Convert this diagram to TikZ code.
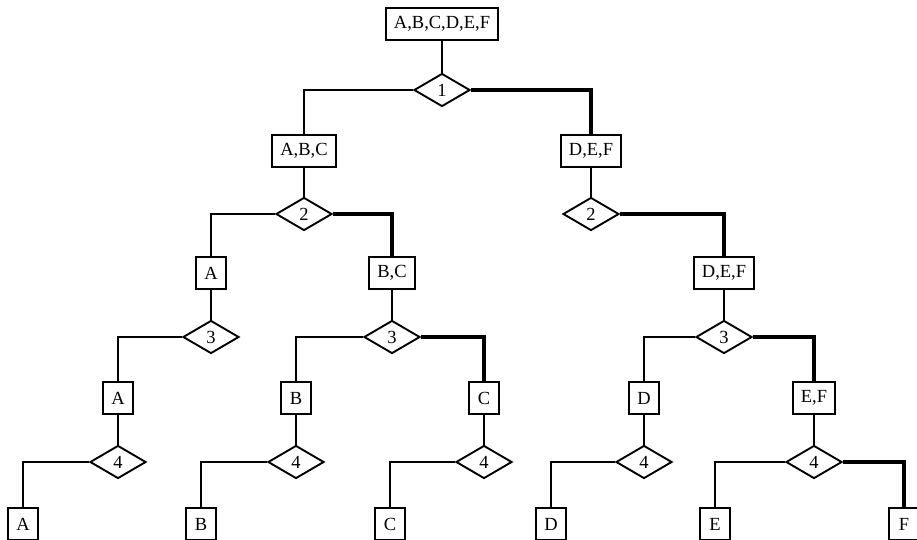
\documentclass[tikz,border=0pt]{standalone}
\usepackage{fontspec}
\setmainfont{Liberation Serif}
\usetikzlibrary{shapes.geometric}
\begin{document}
\begin{tikzpicture}[x=1pt,y=-1pt,
  setbox/.style={draw, line width=1.9pt, minimum height=32pt, minimum width=30pt,
    inner xsep=8pt, inner ysep=0pt, font=\fontsize{18.5}{18.5}\selectfont},
  testbox/.style={draw, shape=diamond, line width=1.9pt, minimum width=56pt,
    minimum height=33pt, inner sep=0pt, font=\fontsize{18.5}{18.5}\selectfont},
  edge/.style={line width=1.9pt},
  heavy/.style={line width=4pt}]
\useasboundingbox (0,0) rectangle (917,539);
\clip (0,0) rectangle (917,539);

% level 0
\node[setbox]  (root) at (442,24)  {A,B,C,D,E,F};
\node[testbox] (t1)   at (442,90)  {1};

% level 1
\node[setbox]  (abc)  at (304,151) {A,B,C};
\node[setbox]  (def)  at (591,151) {D,E,F};
\node[testbox] (t2a)  at (304,214) {2};
\node[testbox] (t2b)  at (591,214) {2};

% level 2
\node[setbox]  (a2)   at (211,273) {A};
\node[setbox]  (bc)   at (392,273) {B,C};
\node[setbox]  (def2) at (724,273) {D,E,F};
\node[testbox] (t3a)  at (211,337) {3};
\node[testbox] (t3b)  at (392,337) {3};
\node[testbox] (t3c)  at (724,337) {3};

% level 3
\node[setbox]  (a3)   at (118,398) {A};
\node[setbox]  (b3)   at (296,398) {B};
\node[setbox]  (c3)   at (484,398) {C};
\node[setbox]  (d3)   at (644,398) {D};
\node[setbox]  (ef3)  at (814,398) {E,F};
\node[testbox] (t4a)  at (118,462) {4};
\node[testbox] (t4b)  at (296,462) {4};
\node[testbox] (t4c)  at (484,462) {4};
\node[testbox] (t4d)  at (644,462) {4};
\node[testbox] (t4e)  at (814,462) {4};

% leaves
\node[setbox]  (a4)   at (23,524)  {A};
\node[setbox]  (b4)   at (201,524) {B};
\node[setbox]  (c4)   at (390,524) {C};
\node[setbox]  (d4)   at (551,524) {D};
\node[setbox]  (e4)   at (715,524) {E};
\node[setbox]  (f4)   at (904,524) {F};

% set to test
\foreach \s/\t in {root/t1, abc/t2a, def/t2b, a2/t3a, bc/t3b, def2/t3c,
                   a3/t4a, b3/t4b, c3/t4c, d3/t4d, ef3/t4e}
  \draw[edge] (\s.south) -- (\t.north);

% thin branches
\draw[edge] (t1.west)  -| (abc.north);
\draw[edge] (t2a.west) -| (a2.north);
\draw[edge] (t3a.west) -| (a3.north);
\draw[edge] (t3b.west) -| (b3.north);
\draw[edge] (t3c.west) -| (d3.north);
\draw[edge] (t4a.west) -| (a4.north);
\draw[edge] (t4b.west) -| (b4.north);
\draw[edge] (t4c.west) -| (c4.north);
\draw[edge] (t4d.west) -| (d4.north);
\draw[edge] (t4e.west) -| (e4.north);

% heavy branches
\draw[heavy] (t1.east)  -| (def.north);
\draw[heavy] (t2a.east) -| (bc.north);
\draw[heavy] (t2b.east) -| (def2.north);
\draw[heavy] (t3b.east) -| (c3.north);
\draw[heavy] (t3c.east) -| (ef3.north);
\draw[heavy] (t4e.east) -| (f4.north);
\end{tikzpicture}
\end{document}
